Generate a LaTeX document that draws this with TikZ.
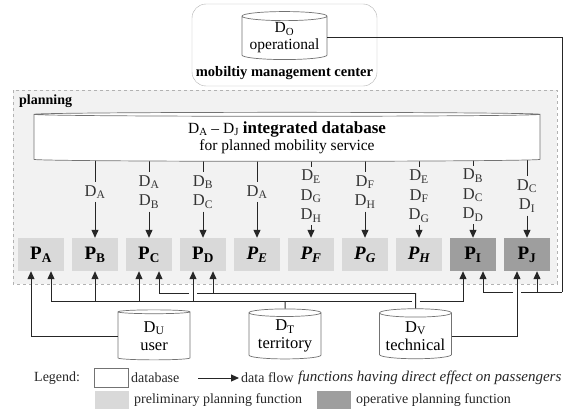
\documentclass[tikz,border=0pt]{standalone}
\usepackage{fontspec}
\setmainfont{Liberation Serif}
\usetikzlibrary{arrows.meta, positioning, shapes.geometric}

\tikzset{
  db/.style={cylinder, shape border rotate=90, draw=black!55, line width=0.7pt, fill=white,
    align=center, inner sep=0pt, font=\fontsize{15.5}{17}\selectfont},
  fn/.style={fill=black!15, minimum width=46pt, minimum height=33pt, inner sep=0pt,
    font=\fontsize{19}{20}\selectfont\bfseries},
  op/.style={fn, fill=black!38},
  dl/.style={align=center, inner sep=3pt, text=black!80, font=\fontsize{16.5}{19.5}\selectfont},
  lg/.style={anchor=west, inner sep=0pt, text=black!85, font=\fontsize{14}{16}\selectfont},
  wire/.style={draw=black!85, line width=1pt},
  flow/.style={wire, -{Triangle[length=8pt,width=7pt]}}
}

\begin{document}
\begin{tikzpicture}[x=1pt, y=-1pt]
\useasboundingbox (0,0) rectangle (569,412);

\draw[dashed, draw=black!30, fill=black!5] (13,90) rectangle (557,284);
\node[anchor=north west, inner sep=0pt, font=\fontsize{14}{16}\selectfont\bfseries] (plan) at (19,95) {planning};

\node[draw=black!30, fill=white, rounded corners=14pt, minimum width=185pt, minimum height=82pt] (mmc) at (284.5,45) {};
\node[db, minimum width=85pt, minimum height=48pt, aspect=0.13] (do) at (284.5,38) {D\textsubscript{O}\\operational};
\node[font=\fontsize{14.5}{16}\selectfont\bfseries] (mmct) at (284.5,73) {mobiltiy management center};

\node[fn] (pA) at (41,254.5) {P\textsubscript{A}};
\node[fn] (pB) at (95,254.5) {P\textsubscript{B}};
\node[fn] (pC) at (149,254.5) {P\textsubscript{C}};
\node[fn] (pD) at (203,254.5) {P\textsubscript{D}};
\node[fn] (pE) at (257,254.5) {\itshape P\textsubscript{E}};
\node[fn] (pF) at (311,254.5) {\itshape P\textsubscript{F}};
\node[fn] (pG) at (365,254.5) {\itshape P\textsubscript{G}};
\node[fn] (pH) at (419,254.5) {\itshape P\textsubscript{H}};
\node[op] (pI) at (473,254.5) {P\textsubscript{I}};
\node[op] (pJ) at (527,254.5) {P\textsubscript{J}};

\node[dl] (lB) at (95,192) {D\textsubscript{A}};
\node[dl] (lC) at (149,192) {D\textsubscript{A}\\D\textsubscript{B}};
\node[dl] (lD) at (203,192) {D\textsubscript{B}\\D\textsubscript{C}};
\node[dl] (lE) at (257,192) {D\textsubscript{A}};
\node[dl] (lF) at (311,196) {D\textsubscript{E}\\D\textsubscript{G}\\D\textsubscript{H}};
\node[dl] (lG) at (365,192) {D\textsubscript{F}\\D\textsubscript{H}};
\node[dl] (lH) at (419,196) {D\textsubscript{E}\\D\textsubscript{F}\\D\textsubscript{G}};
\node[dl] (lI) at (473,195) {D\textsubscript{B}\\D\textsubscript{C}\\D\textsubscript{D}};
\node[dl] (lJ) at (527,196) {D\textsubscript{C}\\D\textsubscript{I}};

\coordinate (dbc) at (287,138);
\draw[wire] (lB |- dbc) -- (lB);
\draw[wire] (lC |- dbc) -- (lC);
\draw[wire] (lD |- dbc) -- (lD);
\draw[wire] (lE |- dbc) -- (lE);
\draw[wire] (lF |- dbc) -- (lF);
\draw[wire] (lG |- dbc) -- (lG);
\draw[wire] (lH |- dbc) -- (lH);
\draw[wire] (lI |- dbc) -- (lI);
\draw[wire] (lJ |- dbc) -- (lJ);
\draw[flow] (lB) -- (pB);
\draw[flow] (lC) -- (pC);
\draw[flow] (lD) -- (pD);
\draw[flow] (lE) -- (pE);
\draw[flow] (lF) -- (pF);
\draw[flow] (lG) -- (pG);
\draw[flow] (lH) -- (pH);
\draw[flow] (lI) -- (pI);
\draw[flow] (lJ) -- (pJ);

\node[db, minimum width=506pt, minimum height=49pt, aspect=0.02] (db) at (dbc)
  {D\textsubscript{A} -- D\textsubscript{J} {\fontsize{17}{18}\selectfont\bfseries integrated database}\\for planned mobility service};

\node[db, minimum width=72pt, minimum height=50pt, aspect=0.14, font=\fontsize{16.5}{18}\selectfont] (du) at (154,336) {D\textsubscript{U}\\user};
\node[db, minimum width=72pt, minimum height=50pt, aspect=0.14, font=\fontsize{16.5}{18}\selectfont] (dt) at (285,336) {D\textsubscript{T}\\territory};
\node[db, minimum width=72pt, minimum height=50pt, aspect=0.14, font=\fontsize{16.5}{18}\selectfont] (dv) at (415.5,336) {D\textsubscript{V}\\technical};

\coordinate (tb) at (285,301);
\coordinate (vb) at (415.5,293);
\coordinate (ob) at (562,292);

\draw[flow] (du.west) -| ([xshift=-10pt]pA.south);

\draw[wire] (dt) -- (tb);
\draw[wire] ([xshift=10pt]pA.south |- tb) -- ([xshift=-4pt]dv.north |- tb);
\draw[flow] ([xshift=4pt]dv.north |- tb) -| ([xshift=-10pt]pI.south);
\draw[flow] ([xshift=10pt]pA.south |- tb) -- ([xshift=10pt]pA.south);
\draw[flow] (pB.south |- tb) -- (pB);
\draw[flow] ([xshift=-10pt]pC.south |- tb) -- ([xshift=-10pt]pC.south);
\draw[flow] ([xshift=-10pt]pD.south |- tb) -- ([xshift=-10pt]pD.south);

\draw[wire] (dv) -- (vb);
\draw[wire] (vb) -- ([xshift=-6pt]pD.south |- vb);
\draw[flow] ([xshift=-14pt]pD.south |- vb) -| ([xshift=10pt]pC.south);
\draw[flow] ([xshift=10pt]pD.south |- vb) -- ([xshift=10pt]pD.south);
\draw[flow] (dv.east) -| ([xshift=-10pt]pJ.south);

\draw[wire] (do.east) -| (ob);
\draw[wire] (ob) -- ([xshift=-6pt]pJ.south |- ob);
\draw[flow] ([xshift=-14pt]pJ.south |- ob) -| ([xshift=10pt]pI.south);
\draw[flow] ([xshift=10pt]pJ.south |- ob) -- ([xshift=10pt]pJ.south);

\node[lg] (leg) at (34,378) {Legend:};
\node[db, minimum width=34pt, minimum height=19pt, aspect=0.2] (ldb) at (111,378) {};
\node[lg] (ldbt) at (131,378) {database};
\coordinate (la) at (198,378);
\node[lg] (lfl) at (241,378) {data flow};
\draw[flow] (la) -- ([xshift=-2pt]lfl.west);
\node[lg, font=\fontsize{15}{16}\selectfont\itshape] (lfx) at (298,378) {functions having direct effect on passengers};
\node[fill=black!15, minimum width=34pt, minimum height=18pt] (lpre) at (111.5,400) {};
\node[lg] (lpret) at (134,400) {preliminary planning function};
\node[fill=black!38, minimum width=34pt, minimum height=18pt] (lop) at (334,400) {};
\node[lg] (lopt) at (356,400) {operative planning function};
\end{tikzpicture}
\end{document}
